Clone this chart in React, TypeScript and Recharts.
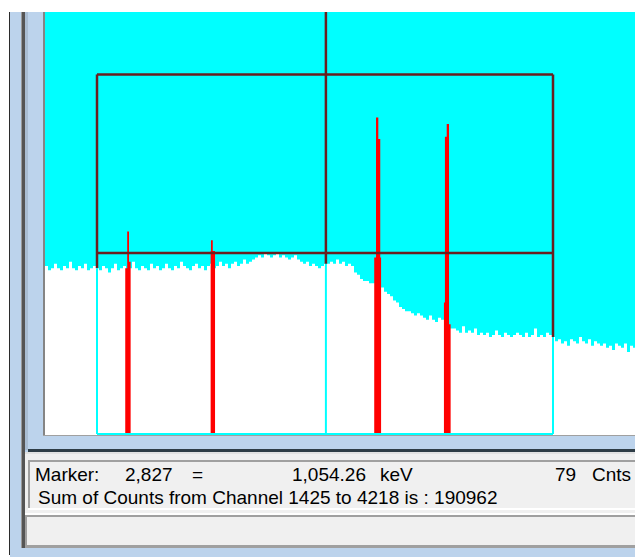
import React from 'react';
import { ComposedChart, Area, XAxis, YAxis, ReferenceLine } from 'recharts';

// spectrum background, one value per display bin (counts)
const BIN_START = 1106.5;
const BIN_WIDTH = 18.375;
const bgCounts = [
  78, 76, 77, 79, 77, 76, 78, 77, 80, 77, 76, 78, 77, 79, 76, 77, 78, 77,
  76, 78, 77, 75, 77, 79, 76, 77, 78, 76, 77, 80, 77, 76, 78, 77, 76, 79, 77, 78,
  76, 77, 79, 77, 76, 78, 77, 80, 78, 77, 76, 78, 79, 77, 78, 76, 78, 79, 77, 78,
  80, 78, 79, 77, 79, 80, 78, 79, 81, 79, 80,
  81, 82, 83, 82, 84, 83, 82, 83, 84, 82, 83, 82, 81, 82, 83, 81,
  80, 79, 80, 78, 79, 78, 77, 78, 79,
  79, 80, 79, 81, 79, 80, 78, 79, 78,
  75, 74,
  72, 71, 71, 70, 70,
  69, 68, 68,
  66, 65, 64,
  62, 61, 59,
  58, 57, 57,
  56, 55, 56, 55,
  54, 53, 55,
  53, 52, 54, 53, 53,
  50, 49, 49,
  48, 47, 50, 47, 48, 47, 49, 46, 47,
  46, 47, 45, 46, 48, 46, 45, 47, 46, 45, 46, 47,
  46, 45, 47, 45, 46, 49, 45, 46, 45, 47, 46, 45,
  43, 44, 42, 43, 41, 44, 43, 42, 45, 43, 42, 44, 41, 43, 42,
  41, 42, 40, 41, 39, 42, 41, 40, 42, 38, 41, 40,
];

// regions of interest (channel, counts), drawn red
const roi1 = [{ ch: 1598, c: 77 }, { ch: 1610, c: 94 }, { ch: 1621, c: 80 }, { ch: 1631, c: 80 }];
const roi2 = [{ ch: 2121, c: 85 }, { ch: 2123, c: 90 }, { ch: 2134, c: 85 }, { ch: 2148, c: 85 }];
const roi3 = [{ ch: 3123, c: 82 }, { ch: 3134, c: 147 }, { ch: 3148, c: 137 }, { ch: 3160, c: 82 }, { ch: 3165, c: 82 }];
const roi4 = [{ ch: 3550, c: 61 }, { ch: 3556, c: 138 }, { ch: 3567, c: 144 }, { ch: 3581, c: 51 }, { ch: 3591, c: 51 }];

const X_DOMAIN = [1106.5, 4720.25];
const Y_DOMAIN = [-0.5, 196];

// expand box / marker
const BOX_LEFT = 1425;
const BOX_RIGHT = 4218;
const BOX_TOP = 167;
const BOX_MID = 84;
const MARKER = 2827;

const spectrum = bgCounts
  .map((c, i) => ({ ch: BIN_START + i * BIN_WIDTH, c }))
  .concat([{ ch: BIN_START + bgCounts.length * BIN_WIDTH, c: bgCounts[bgCounts.length - 1] }]);

const countAt = (ch: number) =>
  bgCounts[Math.min(bgCounts.length - 1, Math.max(0, Math.floor((ch - BIN_START) / BIN_WIDTH)))];

const DARK = '#6a1f1f';
const CYAN = '#00ffff';

const rect = (left: number, top: number, width: number, height: number, background: string) => (
  <div style={{ position: 'absolute', left, top, width, height, background }} />
);

const txt = (left: number, top: number, s: string) => (
  <span style={{ position: 'absolute', left, top, lineHeight: '19px', whiteSpace: 'pre' }}>{s}</span>
);

export default function App() {
  return (
    <div style={{ position: 'absolute', left: 0, top: 0, width: 635, height: 557, background: '#fff', overflow: 'hidden', fontFamily: '"Liberation Sans", Arial, sans-serif', fontSize: 19, color: '#000' }}>
      {rect(9, 12, 1, 543, '#2b2b2b')}
      {rect(10, 12, 625, 545, '#bcd3ec')}
      {rect(21, 12, 1, 536, '#9a9a9a')}
      {rect(22, 12, 3, 536, '#555555')}
      {rect(25, 12, 3, 438, '#a9bdd3')}
      {rect(43, 12, 2, 423, '#858585')}
      {rect(43, 435, 592, 1, '#a0a0a0')}
      {rect(28, 449, 607, 3, '#2e3d46')}
      {rect(25, 452, 610, 96, '#f0f0f0')}
      {rect(25, 452, 610, 2, '#e2e2e2')}
      {rect(28, 460, 607, 2, '#a0a0a0')}
      {rect(28, 460, 2, 48, '#a0a0a0')}
      {rect(28, 508, 607, 2, '#ffffff')}
      {rect(25, 513, 610, 2, '#ffffff')}
      {rect(25, 515, 610, 2, '#a0a0a0')}
      {rect(25, 515, 2, 33, '#a0a0a0')}
      {rect(25, 545, 610, 3, '#a0a0a0')}

      <div style={{ position: 'absolute', left: 45, top: 12, width: 590, height: 423, background: CYAN }}>
        <ComposedChart width={590} height={423} margin={{ top: 0, right: 0, bottom: 0, left: 0 }}>
          <XAxis type="number" dataKey="ch" domain={X_DOMAIN} allowDataOverflow hide />
          <YAxis type="number" domain={Y_DOMAIN} allowDataOverflow hide />
          <Area data={spectrum} dataKey="c" type="stepAfter" fill="#ffffff" fillOpacity={1} stroke="none" baseValue="dataMin" isAnimationActive={false} />
          {[roi1, roi2, roi3, roi4].map((r, i) => (
            <Area key={i} data={r} dataKey="c" type="stepAfter" fill="#ff0000" fillOpacity={1} stroke="none" baseValue="dataMin" isAnimationActive={false} />
          ))}
          <ReferenceLine segment={[{ x: BOX_LEFT, y: BOX_TOP }, { x: BOX_RIGHT, y: BOX_TOP }]} stroke={DARK} strokeWidth={2.5} />
          <ReferenceLine segment={[{ x: BOX_LEFT, y: BOX_MID }, { x: BOX_RIGHT, y: BOX_MID }]} stroke={DARK} strokeWidth={2.5} />
          <ReferenceLine segment={[{ x: BOX_LEFT, y: 0 }, { x: BOX_RIGHT, y: 0 }]} stroke={CYAN} strokeWidth={2} />
          {[BOX_LEFT, BOX_RIGHT].map((x) => (
            <ReferenceLine key={'d' + x} segment={[{ x, y: BOX_TOP }, { x, y: countAt(x) }]} stroke={DARK} strokeWidth={2.5} />
          ))}
          <ReferenceLine segment={[{ x: MARKER, y: Y_DOMAIN[1] }, { x: MARKER, y: countAt(MARKER) }]} stroke={DARK} strokeWidth={2.5} />
          {[BOX_LEFT, MARKER, BOX_RIGHT].map((x) => (
            <ReferenceLine key={'c' + x} segment={[{ x, y: countAt(x) }, { x, y: 0 }]} stroke={CYAN} strokeWidth={2} />
          ))}
        </ComposedChart>
      </div>

      {txt(35, 465, 'Marker:')}
      {txt(125, 465, '2,827')}
      {txt(192, 465, '=')}
      {txt(292, 465, '1,054.26')}
      {txt(380, 465, 'keV')}
      {txt(555, 465, '79')}
      {txt(592, 465, 'Cnts')}
      {txt(38, 488, 'Sum of Counts from Channel 1425 to 4218 is : 190962')}
    </div>
  );
}
